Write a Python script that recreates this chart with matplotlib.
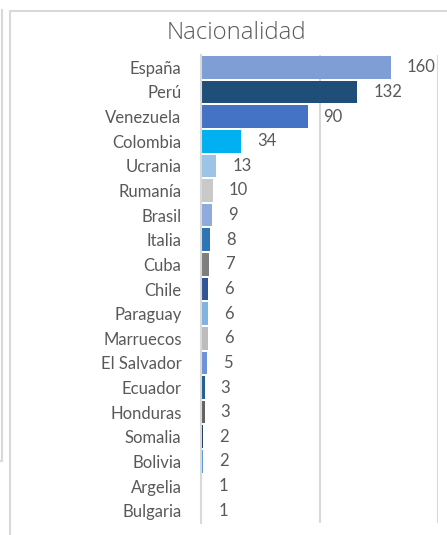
import matplotlib
matplotlib.use("Agg")
import matplotlib.pyplot as plt
from matplotlib.patches import Rectangle
from matplotlib.lines import Line2D

countries = ["España", "Perú", "Venezuela", "Colombia", "Ucrania", "Rumanía", "Brasil",
             "Italia", "Cuba", "Chile", "Paraguay", "Marruecos", "El Salvador", "Ecuador",
             "Honduras", "Somalia", "Bolivia", "Argelia", "Bulgaria"]
values = [160, 132, 90, 34, 13, 10, 9, 8, 7, 6, 6, 6, 5, 3, 3, 2, 2, 1, 1]
colors = ["#7f9ed6", "#1f4e79", "#4472c4", "#00b0f0", "#9dc3e6", "#c9c9c9", "#8faadc",
          "#2e75b6", "#7f7f7f", "#2f5597", "#7fb3e0", "#bcbcbc", "#6e93d8", "#255e91",
          "#636363", "#203864", "#5b9bd5", "#a5a5a5", "#4472c4"]
title = "Nacionalidad"

W, H = 447, 535
fig = plt.figure(figsize=(W / 100, H / 100), dpi=100)
fig.patch.set_facecolor("white")

# frame borders
fig.add_artist(Rectangle((10 / W, -0.1), 1.2, (H - 10.5) / H + 0.1, transform=fig.transFigure,
                         fill=False, edgecolor="#d9d9d9", linewidth=1.5))
fig.add_artist(Line2D([2 / W, 2 / W], [1 - 10 / H, 1 - 461 / H], transform=fig.transFigure,
                      color="#d9d9d9", linewidth=1.5))
fig.add_artist(Line2D([0, 2 / W], [1 - 461 / H, 1 - 461 / H], transform=fig.transFigure,
                      color="#d9d9d9", linewidth=1.5))

left, right = 201, 438
top, bottom = 55, 523
ax = fig.add_axes([left / W, 1 - bottom / H, (right - left) / W, (bottom - top) / H])
n = len(countries)
y = list(range(n))
ax.barh(y, values, height=0.92, color=colors, zorder=3)
ax.set_xlim(0, 200)
ax.set_ylim(n - 0.5, -0.5)
ax.set_yticks(y)
ax.set_yticklabels(countries, fontsize=12, color="#595959", family="Lato")
ax.tick_params(axis="y", length=0, pad=14)
ax.set_xticks([0, 100, 200])
ax.tick_params(axis="x", length=0, labelbottom=False)
ax.xaxis.grid(True, color="#d9d9d9", linewidth=1.5, zorder=0)
for s in ["top", "right", "bottom"]:
    ax.spines[s].set_visible(False)
ax.spines["left"].set_color("#d9d9d9")
ax.spines["left"].set_linewidth(1.5)
ax.spines["left"].set_zorder(4)

for yi, v in zip(y, values):
    ax.annotate(str(v), xy=(v, yi), xytext=(11.5, 0), textcoords="offset points",
                ha="left", va="center", fontsize=12, color="#595959", family="Lato")

fig.text(236 / W, 1 - 33 / H, title, ha="center", va="center", fontsize=17.2,
         color="#595959", family="Open Sans", fontweight="light")

fig.savefig("out.png", dpi=100)
